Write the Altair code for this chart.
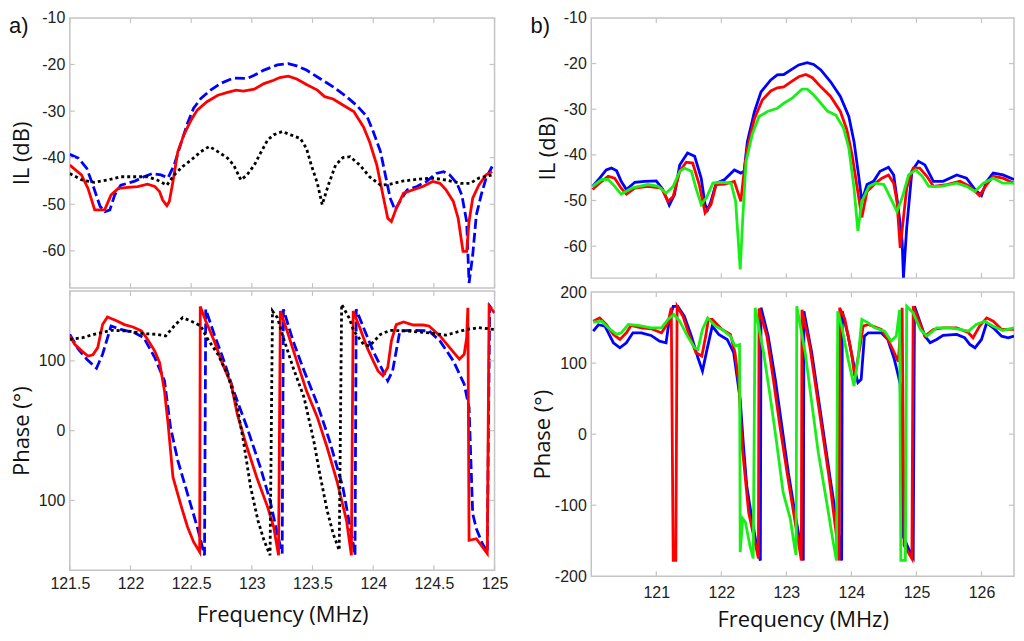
import altair as alt
import pandas as pd

# ---------- panel a) : insertion loss ----------
a_il_red_f = [121.5, 121.596, 121.65, 121.705, 121.787, 121.84, 121.9, 121.98, 122.06, 122.14,
              122.2, 122.24, 122.265, 122.3, 122.32, 122.35, 122.39, 122.44, 122.5, 122.55,
              122.63, 122.72, 122.8, 122.87, 122.93, 123.02, 123.1, 123.18, 123.23, 123.3,
              123.37, 123.45, 123.54, 123.6, 123.67, 123.75, 123.84, 123.92, 123.97, 124.03,
              124.08, 124.12, 124.15, 124.19, 124.25, 124.33, 124.41, 124.49, 124.55, 124.6,
              124.66, 124.7, 124.74, 124.77, 124.79, 124.82, 124.87, 124.93, 124.98]
a_il_red = [-41.6, -43.7, -46.6, -51.2, -51.2, -48, -46.6, -46.4, -46.2, -45.7,
            -46.2, -47.3, -49.1, -50.3, -49.4, -45.1, -38.7, -35.1, -31.9, -29.8,
            -28, -26.6, -26, -25.5, -25.7, -25.3, -24.1, -23.4, -22.8, -22.5,
            -23.1, -24.3, -25.5, -26.9, -27.4, -28.7, -30.1, -33.4, -36.6, -41.6,
            -48, -53, -53.7, -50.9, -47.6, -46.9, -46.2, -45.1, -45.5, -46.9,
            -49.4, -53, -60.1, -60.1, -53.7, -48.7, -45.9, -43.7, -43]

a_il_blue_f = [121.5, 121.57, 121.64, 121.69, 121.75, 121.79, 121.83, 121.87, 121.92, 122.03,
               122.11, 122.18, 122.25, 122.31, 122.36, 122.42, 122.47, 122.52, 122.58, 122.66,
               122.74, 122.85, 122.96, 123.02, 123.1, 123.21, 123.3, 123.37, 123.45, 123.56,
               123.67, 123.78, 123.86, 123.95, 124.0, 124.06, 124.1, 124.14, 124.18, 124.22,
               124.28, 124.36, 124.44, 124.52, 124.58, 124.63, 124.69, 124.73, 124.77, 124.79,
               124.82, 124.85, 124.89, 124.93, 124.98]
a_il_blue = [-39.3, -40.1, -42.3, -45.9, -50.5, -51.6, -51.2, -48, -45.9, -45.1,
             -44.1, -43.4, -43.7, -44.3, -41.6, -36.6, -32.6, -29.4, -27.3, -25.5,
             -24.1, -22.9, -23, -22.3, -21.2, -20.1, -19.8, -20.3, -21.2, -23,
             -24.8, -26.9, -28.7, -31.2, -34.4, -38.7, -43.7, -48.7, -51.2, -49.4,
             -46.9, -46.2, -45.1, -43.4, -43, -43.7, -45.5, -48, -53.7, -66.9,
             -60.9, -52.3, -48, -44.4, -41.9]

a_il_black_f = [121.5, 121.6, 121.7, 121.81, 121.92, 122.03, 122.14, 122.22, 122.3, 122.36,
                122.43, 122.5, 122.58, 122.65, 122.72, 122.8, 122.85, 122.91, 122.96, 123.02,
                123.07, 123.13, 123.18, 123.25, 123.32, 123.4, 123.45, 123.49, 123.54, 123.58,
                123.63, 123.69, 123.75, 123.81, 123.89, 123.97, 124.06, 124.14, 124.25, 124.38,
                124.49, 124.6, 124.72, 124.8, 124.87, 124.98]
a_il_black = [-43.4, -44.8, -45.3, -44.8, -44.1, -44.1, -44.1, -44.8, -45.9, -43.7,
              -41.9, -40.5, -38.7, -37.6, -38.7, -40.1, -41.6, -44.8, -43.7, -41.6,
              -39.1, -36.2, -35.1, -34.4, -35.1, -35.9, -38, -41.6, -45.5, -50.1,
              -45.9, -41.6, -40, -39.8, -41.6, -44.1, -45.9, -45.7, -45, -44.6,
              -44.4, -44.8, -45.5, -45.5, -44.4, -43.7]

# ---------- panel a) : phase ----------
a_ph_red_f = [121.5, 121.54, 121.6, 121.65, 121.69, 121.73, 121.77, 121.81, 121.88, 121.95,
              122.02, 122.09, 122.14, 122.2, 122.24, 122.28, 122.31, 122.35, 122.42, 122.47,
              122.52, 122.57, 122.575, 122.62, 122.69, 122.76, 122.83, 122.88, 122.96, 123.04,
              123.13, 123.18, 123.22, 123.235, 123.29, 123.37, 123.45, 123.54, 123.62, 123.7,
              123.78, 123.82, 123.835, 123.89, 123.95, 124.0, 124.04, 124.08, 124.12, 124.15,
              124.19, 124.25, 124.33, 124.41, 124.46, 124.55, 124.63, 124.71, 124.75, 124.77,
              124.78, 124.79, 124.85, 124.9, 124.94, 124.955, 125.0]
a_ph_red = [135.7, 123.8, 114, 107, 108.6, 119, 152, 163, 158, 152,
            148.6, 143, 131, 114, 97.6, 57, 9.5, -66.7, -109.5, -138,
            -159.5, -173.8, 178, 157, 128.6, 95, 66.7, 23.8, -23.8, -66.7,
            -109.5, -138, -178.6, 171.4, 143, 100, 57, 19, -23.8, -71.4,
            -128.6, -178.6, 171.4, 147.6, 119, 100, 85.7, 78.6, 90.5, 128.6,
            152, 155.7, 151.4, 151.4, 150, 135.7, 119, 102.4, 109.5, 133,
            176, -157, -154.8, -166.7, -176, 178, 169]

a_ph_blue_f = [121.5, 121.57, 121.64, 121.72, 121.77, 121.84, 121.92, 122.03, 122.11, 122.2,
               122.28, 122.33, 122.39, 122.47, 122.55, 122.61, 122.62, 122.69, 122.77, 122.85,
               122.96, 123.07, 123.15, 123.21, 123.25, 123.26, 123.34, 123.42, 123.54, 123.64,
               123.75, 123.84, 123.85, 123.86, 123.92, 124.0, 124.08, 124.12, 124.16, 124.22,
               124.3, 124.46, 124.55, 124.66, 124.75, 124.79, 124.82, 124.85, 124.9, 124.94,
               124.96, 125.0]
a_ph_blue = [138, 116.7, 102.4, 89.5, 109.5, 150, 145, 140.5, 133, 104.8,
             71.4, 4.8, -42.9, -90.5, -138, -178.6, 173.8, 138, 100, 57,
             4.8, -52.4, -100, -147.6, -176, 173.8, 128.6, 90.5, 38, -14.3,
             -81, -166.7, -178.6, 173.8, 147.6, 114, 85.7, 71.4, 85.7, 143,
             143.8, 143, 128.6, 100, 66.7, 33.3, -119, -140.5, -162, -173.8,
             178.6, 169]

a_ph_black_f = [121.5, 121.6, 121.7, 121.84, 121.98, 122.11, 122.22, 122.29, 122.36, 122.43,
                122.5, 122.58, 122.63, 122.72, 122.8, 122.88, 122.93, 122.99, 123.05, 123.1,
                123.15, 123.17, 123.21, 123.26, 123.34, 123.43, 123.51, 123.56, 123.62, 123.67,
                123.72, 123.74, 123.8, 123.84, 123.92, 123.97, 124.06, 124.14, 124.28, 124.44,
                124.6, 124.77, 124.87, 125.0]
a_ph_black = [131, 133, 138, 143.8, 142.9, 139, 138, 135.7, 150, 162,
              157, 150, 133, 109.5, 81, 33.3, -14.3, -81, -128.6, -157,
              -178.6, 171.4, 162, 133, 90.5, 47.6, -14.3, -61.9, -114, -147.6,
              -171.4, 181, 162, 143, 123.8, 121.4, 138, 143.8, 142.9, 140.5,
              137, 145, 147.6, 145]

# ---------- panel b) : insertion loss ----------
b_il_blue_f = [120.02, 120.13, 120.23, 120.31, 120.39, 120.46, 120.54, 120.67, 120.82, 121.0,
               121.1, 121.2, 121.28, 121.36, 121.48, 121.59, 121.69, 121.75, 121.79, 121.84,
               121.92, 122.05, 122.2, 122.3, 122.35, 122.4, 122.51, 122.61, 122.76, 122.86,
               122.96, 123.07, 123.19, 123.32, 123.42, 123.53, 123.68, 123.83, 123.96, 124.04,
               124.11, 124.16, 124.24, 124.34, 124.44, 124.57, 124.65, 124.72, 124.78, 124.8,
               124.85, 124.93, 125.03, 125.13, 125.26, 125.41, 125.62, 125.77, 125.9, 126.0,
               126.08, 126.18, 126.33, 126.5]
b_il_blue = [-46.9, -45.1, -43.3, -42.9, -43.5, -45.8, -47.6, -46, -45.8, -45.7,
             -47.6, -51, -48.7, -42.2, -39.6, -40.3, -45.1, -50.9, -52, -50.2,
             -46.2, -45.4, -43.3, -44, -43.6, -37.1, -30.5, -26.2, -23.6, -22.5,
             -22.4, -21.4, -20.3, -19.8, -20.2, -21.4, -24, -27.2, -31.6, -37.1,
             -44.4, -50.2, -46.5, -45.8, -43.6, -42.7, -44.4, -51.6, -58.9, -66.9,
             -56, -43.6, -41.4, -42.2, -45.8, -45.8, -44.4, -45.1, -47.6, -48.9,
             -45.8, -44, -44.4, -45.4]

b_il_red_f = [120.02, 120.16, 120.26, 120.36, 120.46, 120.54, 120.67, 120.87, 121.08, 121.18,
              121.26, 121.36, 121.46, 121.56, 121.66, 121.75, 121.84, 121.92, 122.05, 122.2,
              122.3, 122.35, 122.4, 122.51, 122.63, 122.76, 122.86, 122.96, 123.07, 123.19,
              123.3, 123.4, 123.53, 123.68, 123.83, 123.93, 124.01, 124.09, 124.16, 124.24,
              124.37, 124.47, 124.57, 124.65, 124.7, 124.75, 124.8, 124.85, 124.95, 125.05,
              125.16, 125.26, 125.47, 125.67, 125.82, 125.97, 126.08, 126.18, 126.33, 126.5]
b_il_red = [-47.6, -45.8, -44.7, -45.1, -47.3, -48.6, -47.3, -46.9, -47.3, -50.2,
            -49.1, -43.6, -41.6, -41.8, -46.5, -52.7, -50.9, -46.5, -46.4, -45.8,
            -50.2, -43.6, -38.5, -32, -28, -26, -25.3, -25.1, -24, -22.9,
            -22.4, -23.1, -25.1, -27.2, -30.5, -34.5, -40, -47.3, -53.7, -48,
            -46.2, -45.1, -44.4, -46.2, -50.2, -60.4, -53.8, -47.3, -42.9, -42.9,
            -44.7, -46.9, -46.5, -45.8, -46.9, -48.9, -46.5, -44.7, -45.1, -46.2]

b_il_green_f = [120.02, 120.16, 120.26, 120.36, 120.46, 120.62, 120.87, 121.03, 121.15, 121.26,
                121.36, 121.43, 121.54, 121.61, 121.69, 121.77, 121.87, 121.99, 122.15, 122.22,
                122.29, 122.33, 122.38, 122.48, 122.58, 122.71, 122.86, 122.96, 123.09, 123.24,
                123.32, 123.42, 123.53, 123.63, 123.76, 123.88, 123.96, 124.04, 124.1, 124.16,
                124.27, 124.37, 124.5, 124.6, 124.7, 124.78, 124.88, 124.99, 125.09, 125.19,
                125.37, 125.62, 125.77, 125.9, 126.03, 126.18, 126.33, 126.5]
b_il_green = [-46.9, -45.4, -45.4, -46.9, -48.6, -47.3, -46.5, -46.9, -48.4, -46.9,
              -43.6, -42.9, -43.6, -47.3, -50.9, -49.4, -46.2, -46, -46.2, -50.2,
              -65.1, -53.8, -41.4, -35.3, -31.6, -30.5, -29.8, -28.7, -27.6, -25.6,
              -25.6, -26.9, -28.7, -30.4, -31.3, -34.2, -38.5, -47.3, -56.7, -50.2,
              -46.9, -46.2, -46.5, -49.4, -52.4, -49.4, -44.4, -43.3, -44.7, -46.9,
              -46.9, -46.2, -46.9, -48, -46.2, -45.1, -46.2, -46.2]

# ---------- panel b) : phase ----------
b_ph_blue_f = [120.03, 120.11, 120.21, 120.34, 120.44, 120.54, 120.64, 120.77, 120.92, 121.05,
               121.15, 121.2, 121.26, 121.33, 121.43, 121.54, 121.64, 121.71, 121.78, 121.86,
               121.96, 122.09, 122.19, 122.29, 122.34, 122.39, 122.47, 122.55, 122.6, 122.61,
               122.72, 122.83, 122.93, 123.03, 123.13, 123.21, 123.26, 123.27, 123.39, 123.54,
               123.69, 123.8, 123.85, 123.86, 123.95, 124.05, 124.1, 124.15, 124.2, 124.26,
               124.46, 124.56, 124.66, 124.71, 124.75, 124.79, 124.88, 124.95, 124.97, 125.06,
               125.13, 125.21, 125.31, 125.41, 125.62, 125.74, 125.82, 125.9, 126.0, 126.08,
               126.18, 126.31, 126.41, 126.5]
b_ph_blue = [145, 154, 152, 128.7, 121.6, 128.7, 142.7, 142.7, 139, 131,
             128.7, 161.4, 180, 180, 166, 138, 107.6, 88.9, 119.3, 152,
             140.4, 133.3, 114.6, 49, -16, -72.5, -119, -161, -178, 178,
             138, 77, 11.7, -53.8, -110, -152, -178, 173, 114.6, 21,
             -72.5, -138, -178, 173, 138, 91.2, 72.5, 77, 138, 142.7,
             142.7, 133.3, 105.3, 86.5, 70.2, -142.7, -161.4, -173, 180, 156.7,
             138, 128.7, 133.3, 139, 140.4, 135.7, 126.3, 121.6, 133.3, 156.7,
             149.7, 138, 135.7, 138]

b_ph_red_f = [120.03, 120.13, 120.23, 120.34, 120.44, 120.54, 120.61, 120.77, 120.92, 121.08,
              121.18, 121.23, 121.26, 121.3, 121.32, 121.41, 121.51, 121.61, 121.7, 121.76,
              121.8, 121.86, 122.01, 122.14, 122.21, 122.27, 122.32, 122.42, 122.57, 122.58,
              122.7, 122.8, 122.9, 123.01, 123.11, 123.21, 123.23, 123.24, 123.36, 123.51,
              123.66, 123.77, 123.81, 123.82, 123.9, 124.0, 124.05, 124.13, 124.18, 124.26,
              124.46, 124.56, 124.66, 124.72, 124.75, 124.78, 124.81, 124.93, 124.95, 125.03,
              125.13, 125.26, 125.41, 125.62, 125.8, 125.87, 125.97, 126.08, 126.18, 126.31,
              126.5]
b_ph_red = [159, 163.7, 154.4, 140.4, 133.3, 142.7, 153, 149.7, 148.3, 142.7,
            156.7, 177.8, -177.8, -177.8, 180, 166, 138, 114.6, 110, 138,
            161.4, 161.4, 147.4, 140.4, 114.6, 70, -16, -110, -175, 177,
            138, 77, 11.7, -53.8, -110, -166, -178, 175, 124, 30.4,
            -63, -142.7, -178, 178, 161.4, 114.6, 81.9, 121.6, 152, 154.4,
            147.4, 133.3, 114.6, 102, 138, 177.8, -156.7, -175.4, 180, 161.4,
            138, 147.4, 149.7, 149.7, 142.7, 135.7, 152, 163.7, 159, 147.4,
            147.4]

b_ph_green_f = [120.03, 120.16, 120.26, 120.39, 120.46, 120.57, 120.72, 120.92, 121.08, 121.18,
                121.27, 121.36, 121.48, 121.59, 121.64, 121.71, 121.79, 121.91, 122.01, 122.14,
                122.21, 122.28, 122.29, 122.33, 122.37, 122.44, 122.49, 122.52, 122.65, 122.75,
                122.85, 122.95, 123.06, 123.13, 123.15, 123.16, 123.29, 123.39, 123.49, 123.62,
                123.72, 123.77, 123.79, 123.85, 123.95, 124.04, 124.1, 124.16, 124.26, 124.36,
                124.51, 124.61, 124.69, 124.74, 124.76, 124.83, 124.85, 124.95, 125.06, 125.16,
                125.31, 125.52, 125.67, 125.8, 125.92, 126.05, 126.18, 126.33, 126.5]
b_ph_green = [157.7, 159, 149.7, 140.4, 142.7, 154.4, 153, 149.7, 149.7, 161.4,
              168.4, 159, 138, 121.6, 119.3, 147.4, 163.7, 152, 147.4, 138,
              124, 126, -166, -119, -124, -157, -175, 178, 114.6, 53.8,
              -11.7, -82, -119, -161, -170, 180, 114.6, 44.4, -25.7, -96,
              -152, -178, 173, 152, 105.3, 67.8, 105.3, 161.4, 156.7, 149.7,
              145, 131, 138, 175, -177.8, -177.8, 180, 170.8, 147.4, 138,
              149.7, 149.7, 147.4, 145, 154.4, 159, 152, 146, 149.7]

# ---------- axes ----------
a_x_ticks = [121.5, 122, 122.5, 123, 123.5, 124, 124.5, 125]
b_x_ticks = [121, 122, 123, 124, 125, 126]
il_ticks = [-10, -20, -30, -40, -50, -60]
a_ph_ticks = [100, 0, -100]
b_ph_ticks = [200, 100, 0, -100, -200]

RED, BLUE, BLACK, GREEN = "#ff0000", "#0000ff", "#000000", "#19ee19"
FRAME = "#c4c4c4"
LABEL_FONT = "Arial, Liberation Sans"
TITLE_FONT = "Open Sans"


def frame(f, v):
    return pd.DataFrame({"f": f, "v": v, "i": range(len(f))})


def y_axis(values, title, tpad, expr="toString(datum.value)"):
    return alt.Axis(values=values, labelExpr=expr, title=title, ticks=False, domain=False,
                    grid=False, labelFont=LABEL_FONT, labelFontSize=16, labelColor="#222",
                    labelPadding=5, labelOverlap=False, titleFont=TITLE_FONT, titleFontSize=22,
                    titleFontWeight="normal", titleColor="#111", titlePadding=tpad)


def x_axis(values, lpad, tpad):
    return alt.Axis(values=values, labelExpr="toString(datum.value)", title="Frequency (MHz)",
                    ticks=False, domain=False, grid=False, labelFlush=False, labelOverlap=False,
                    labelFont=LABEL_FONT, labelFontSize=16, labelColor="#222", labelPadding=lpad,
                    titleFont=TITLE_FONT, titleFontSize=22, titleFontWeight="normal",
                    titleColor="#111", titlePadding=tpad)


def panel(series, xdom, ydom, w, h, xax, yax, xticks, yticks, tag=None):
    xs = alt.Scale(domain=xdom, nice=False, zero=False)
    ys = alt.Scale(domain=ydom, nice=False, zero=False)
    X = lambda fld: alt.X(fld, scale=xs, axis=xax)
    Y = lambda fld: alt.Y(fld, scale=ys, axis=yax)
    layers = []
    for f, v, color, dash in series:
        mk = dict(color=color, strokeWidth=2.8, clip=True)
        if dash:
            mk["strokeDash"] = dash
        layers.append(alt.Chart(frame(f, v)).mark_line(**mk).encode(
            x=X("f:Q"), y=Y("v:Q"), order="i:Q"))
    # inward tick marks on all four sides
    xt = pd.DataFrame({"t": xticks})
    yt = pd.DataFrame({"t": yticks})
    rule = dict(color=FRAME, strokeWidth=1.2)
    layers += [
        alt.Chart(xt).mark_rule(**rule).encode(x=X("t:Q"), y=alt.value(0), y2=alt.value(5)),
        alt.Chart(xt).mark_rule(**rule).encode(x=X("t:Q"), y=alt.value(h - 5), y2=alt.value(h)),
        alt.Chart(yt).mark_rule(**rule).encode(y=Y("t:Q"), x=alt.value(0), x2=alt.value(5)),
        alt.Chart(yt).mark_rule(**rule).encode(y=Y("t:Q"), x=alt.value(w - 5), x2=alt.value(w)),
    ]
    if tag:
        layers.append(alt.Chart(pd.DataFrame({"s": [tag]})).mark_text(
            align="left", baseline="middle", font=LABEL_FONT, fontSize=22, color="#111"
        ).encode(text="s:N", x=alt.value(-61), y=alt.value(8)))
    return alt.layer(*layers).properties(width=w, height=h)


a_top = panel(
    [(a_il_blue_f, a_il_blue, BLUE, [10, 4]),
     (a_il_red_f, a_il_red, RED, None),
     (a_il_black_f, a_il_black, BLACK, [3, 3])],
    [121.5, 125], [-68, -10], 426, 271, None,
    y_axis(il_ticks, "IL (dB)", 8), a_x_ticks, il_ticks[1:], tag="a)")

a_bot = panel(
    [(a_ph_blue_f, a_ph_blue, BLUE, [10, 4]),
     (a_ph_red_f, a_ph_red, RED, None),
     (a_ph_black_f, a_ph_black, BLACK, [3, 3])],
    [121.5, 125], [-200, 200], 426, 280, x_axis(a_x_ticks, 5, 13),
    y_axis(a_ph_ticks, "Phase (°)", 5, "toString(abs(datum.value))"), a_x_ticks, a_ph_ticks)

b_top = panel(
    [(b_il_blue_f, b_il_blue, BLUE, None),
     (b_il_red_f, b_il_red, RED, None),
     (b_il_green_f, b_il_green, GREEN, None)],
    [120.0, 126.5], [-67, -10], 424, 261, None,
    y_axis(il_ticks, "IL (dB)", 4), b_x_ticks, il_ticks[1:], tag="b)")

b_bot = panel(
    [(b_ph_blue_f, b_ph_blue, BLUE, None),
     (b_ph_red_f, b_ph_red, RED, None),
     (b_ph_green_f, b_ph_green, GREEN, None)],
    [120.0, 126.5], [-200, 200], 424, 285, x_axis(b_x_ticks, 8, 9),
    y_axis(b_ph_ticks, "Phase (°)", 0), b_x_ticks, b_ph_ticks[1:-1])

left = alt.vconcat(a_top, a_bot, spacing=3, bounds="flush")
right = alt.vconcat(b_top, b_bot, spacing=14, bounds="flush")

chart = alt.hconcat(left, right, spacing=20).properties(
    padding=0, background="white"
).configure_view(stroke=FRAME, strokeWidth=1.5)

chart.save("out.html", embed_options={"renderer": "svg", "actions": False})
